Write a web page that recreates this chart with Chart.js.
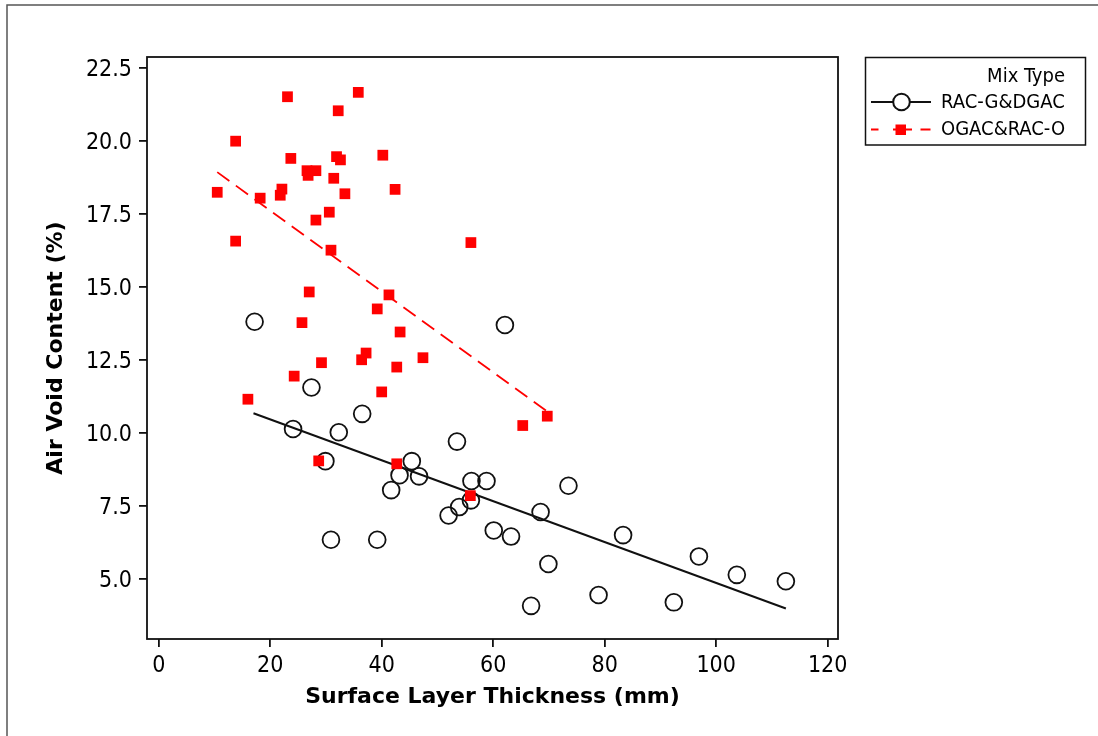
<!DOCTYPE html>
<html>
<head>
<meta charset="utf-8">
<title>Air Void Content vs Surface Layer Thickness</title>
<script src="https://cdn.jsdelivr.net/npm/chart.js@4.4.1/dist/chart.umd.min.js"></script>
<style>
  html, body { margin: 0; padding: 0; background: #fff; }
  #wrap { position: relative; width: 1098px; height: 736px; }
</style>
</head>
<body>
<div id="wrap"><canvas id="chart"></canvas></div>
<script>
// RAC-G&DGAC (open circles)
const racThickness = [17.2, 27.4, 36.5, 24.1, 32.3, 29.9, 45.4, 43.2, 46.7, 41.7, 53.5, 62.1, 56.1, 58.8, 56.0, 53.9,
  52.0, 60.1, 63.2, 30.9, 39.2, 66.8, 68.5, 73.5, 83.3, 69.9, 96.9, 103.7, 112.5, 78.9, 92.4];
const racVoids = [13.81, 11.56, 10.66, 10.14, 10.03, 9.04, 9.04, 8.56, 8.52, 8.05, 9.71, 13.70, 8.36, 8.36, 7.70, 7.47,
  7.18, 6.67, 6.46, 6.35, 6.35, 4.09, 7.30, 8.20, 6.51, 5.52, 5.78, 5.15, 4.93, 4.46, 4.21];

// OGAC&RAC-O (filled squares)
const ogacThickness = [10.5, 13.8, 13.8, 16.0, 18.2, 22.1, 21.8, 23.1, 23.7, 24.3, 25.7, 26.6, 26.8, 27.0, 28.2, 28.2,
  28.7, 29.2, 30.6, 30.9, 31.4, 32.2, 31.9, 32.6, 33.4, 35.8, 36.4, 37.2, 39.2, 40.2, 40.0, 41.3, 42.4, 42.7, 42.7,
  43.3, 47.4, 56.0, 55.9, 65.3, 69.7];
const ogacVoids = [18.24, 19.99, 16.57, 11.16, 18.04, 18.35, 18.14, 21.51, 19.40, 11.95, 13.78, 18.98, 18.82, 14.83,
  18.98, 17.29, 9.05, 12.41, 17.56, 16.26, 18.72, 21.03, 19.46, 19.35, 18.19, 21.66, 12.51, 12.74, 14.25, 19.51, 11.41,
  14.73, 18.34, 12.26, 8.95, 13.46, 12.58, 16.52, 7.86, 10.26, 10.58];

// fitted lines, end points
const racFitX = [17.0, 112.5];
const racFitY = [10.68, 4.00];
const ogacFitX = [10.5, 69.7];
const ogacFitY = [18.93, 10.74];

const xTicks = [0, 20, 40, 60, 80, 100, 120];
const yTicks = [5.0, 7.5, 10.0, 12.5, 15.0, 17.5, 20.0, 22.5];

const seriesNames = ['RAC-G&DGAC', 'OGAC&RAC-O'];
const legendTitle = 'Mix Type';

const RED = '#ff0000';
const INK = '#111';
const TICK_FONT = { family: '"DejaVu Sans Condensed", "DejaVu Sans", sans-serif', size: 23 };
const TITLE_FONT = { family: '"DejaVu Sans", sans-serif', size: 22, weight: 'bold' };

const toPoints = (xs, ys) => xs.map((x, i) => ({ x, y: ys[i] }));

// plot frame, outer frame and the legend box
const framePlugin = {
  id: 'frames',
  afterDraw(chart) {
    const { ctx, chartArea: a } = chart;
    ctx.save();
    ctx.strokeStyle = '#555';
    ctx.lineWidth = 1.5;
    ctx.beginPath();
    ctx.moveTo(7, 736); ctx.lineTo(7, 5); ctx.lineTo(1098, 5);
    ctx.stroke();

    ctx.strokeStyle = INK;
    ctx.lineWidth = 1.8;
    ctx.strokeRect(a.left, a.top, a.right - a.left, a.bottom - a.top);

    // legend
    ctx.lineWidth = 1.5;
    ctx.strokeRect(865.5, 57.5, 220, 87.5);
    ctx.fillStyle = '#000';
    ctx.font = '20px "DejaVu Sans Condensed", "DejaVu Sans", sans-serif';
    ctx.textBaseline = 'middle';
    ctx.textAlign = 'right';
    ctx.fillText(legendTitle, 1065, 77);
    ctx.textAlign = 'left';
    ctx.fillText(seriesNames[0], 941, 103);
    ctx.fillText(seriesNames[1], 941, 130);

    ctx.lineWidth = 2;
    ctx.strokeStyle = INK;
    ctx.beginPath();
    ctx.moveTo(871, 102); ctx.lineTo(931, 102);
    ctx.stroke();
    ctx.fillStyle = '#fff';
    ctx.beginPath();
    ctx.arc(901.5, 102, 8.3, 0, Math.PI * 2);
    ctx.fill();
    ctx.stroke();

    ctx.strokeStyle = RED;
    ctx.beginPath();
    ctx.moveTo(871, 129.5); ctx.lineTo(878.5, 129.5);
    ctx.moveTo(893, 129.5); ctx.lineTo(912, 129.5);
    ctx.moveTo(920.5, 129.5); ctx.lineTo(930.5, 129.5);
    ctx.stroke();
    ctx.fillStyle = RED;
    ctx.fillRect(895.5, 124.5, 10.5, 10.5);
    ctx.restore();
  }
};

new Chart(document.getElementById('chart'), {
  type: 'scatter',
  data: {
    datasets: [
      {
        label: seriesNames[1],
        data: toPoints(ogacThickness, ogacVoids),
        pointStyle: 'rect',
        pointRadius: 7.6,
        pointBackgroundColor: RED,
        pointBorderColor: RED,
        pointBorderWidth: 0,
        order: 1,
      },
      {
        label: seriesNames[0],
        data: toPoints(racThickness, racVoids),
        pointStyle: 'circle',
        pointRadius: 8.4,
        pointBackgroundColor: 'rgba(0,0,0,0)',
        pointBorderColor: INK,
        pointBorderWidth: 1.8,
        order: 2,
      },
      {
        label: 'ogac fit',
        data: toPoints(ogacFitX, ogacFitY),
        showLine: true,
        borderColor: RED,
        borderWidth: 1.8,
        borderDash: [15, 8],
        pointRadius: 0,
        order: 3,
      },
      {
        label: 'rac fit',
        data: toPoints(racFitX, racFitY),
        showLine: true,
        borderColor: INK,
        borderWidth: 2,
        pointRadius: 0,
        order: 4,
      },
    ],
  },
  options: {
    responsive: true,
    maintainAspectRatio: false,
    animation: false,
    layout: { padding: { left: 0, top: 57, right: 260, bottom: 0 } },
    plugins: { legend: { display: false }, tooltip: { enabled: false } },
    scales: {
      x: {
        type: 'linear',
        min: -2.1,
        max: 121.85,
        afterBuildTicks: s => { s.ticks = xTicks.map(v => ({ value: v })); },
        afterFit: s => { s.height = 97; },
        border: { display: false },
        grid: { drawOnChartArea: false, drawTicks: true, tickLength: 8, color: INK, lineWidth: 1.8 },
        ticks: { color: '#000', font: TICK_FONT, padding: 5, maxRotation: 0, callback: v => String(v) },
        title: { display: true, text: 'Surface Layer Thickness (mm)', color: '#000', font: TITLE_FONT, padding: { bottom: 26 } },
      },
      y: {
        type: 'linear',
        min: 2.955,
        max: 22.87,
        afterBuildTicks: s => { s.ticks = yTicks.map(v => ({ value: v })); },
        afterFit: s => { s.width = 147; },
        border: { display: false },
        grid: { drawOnChartArea: false, drawTicks: true, tickLength: 8, color: INK, lineWidth: 1.8 },
        ticks: { color: '#000', font: TICK_FONT, padding: 7, labelOffset: 2, callback: v => Number(v).toFixed(1) },
        title: { display: true, text: 'Air Void Content (%)', color: '#000', font: TITLE_FONT, padding: { top: 43 } },
      },
    },
  },
  plugins: [framePlugin],
});
</script>
</body>
</html>
